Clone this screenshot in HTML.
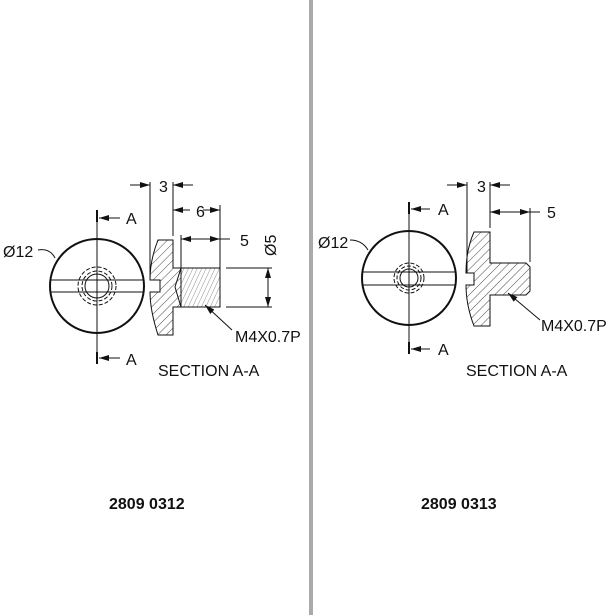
<!DOCTYPE html>
<html><head><meta charset="utf-8"><style>
html,body{margin:0;padding:0;background:#fff;width:615px;height:615px;overflow:hidden}
text{font-family:"Liberation Sans",sans-serif;fill:#111}
</style></head><body>
<svg width="615" height="615" viewBox="0 0 615 615" xmlns="http://www.w3.org/2000/svg">
<defs>
<pattern id="h" width="6" height="6" patternUnits="userSpaceOnUse" patternTransform="rotate(45)">
<line x1="0" y1="0" x2="0" y2="6" stroke="#222" stroke-width="0.8"/></pattern>
<pattern id="h2" width="4" height="4" patternUnits="userSpaceOnUse" patternTransform="rotate(25)">
<line x1="0" y1="0" x2="0" y2="4" stroke="#444" stroke-width="0.6"/></pattern>
<marker id="ar" markerWidth="10" markerHeight="6" refX="10" refY="3" orient="auto" markerUnits="userSpaceOnUse">
<path d="M0,0 L10,3 L0,6z" fill="#111"/></marker>
</defs>
<rect x="309" y="0" width="4" height="615" fill="#aaa"/>

<g stroke="#111" fill="none" stroke-width="1">
<circle cx="97" cy="286" r="47" stroke-width="2"/>
<line x1="50" y1="280" x2="144" y2="280"/><line x1="50" y1="292" x2="144" y2="292"/>
<circle cx="97" cy="286" r="12"/>
<circle cx="97" cy="286" r="15" stroke-dasharray="4,2"/>
<circle cx="97" cy="286" r="19" stroke-dasharray="4,2"/>
<line x1="97" y1="212" x2="97" y2="362"/>
<line x1="97" y1="210" x2="97" y2="222" stroke-width="2"/><line x1="97" y1="352" x2="97" y2="364" stroke-width="2"/>
<line x1="120" y1="218" x2="99" y2="218" marker-end="url(#ar)"/>
<line x1="120" y1="358" x2="99" y2="358" marker-end="url(#ar)"/>
<path d="M38,250 Q50,248 55,258"/>
<path d="M158,240 L173,240 L173,268 L181,268 L181,307 L173,307 L173,335 L158,335 Q150,310 150,292 L160,292 L160,280 L150,280 Q150,260 158,240Z" fill="url(#h)"/>
<path d="M181,268 L220,268 L220,307 L181,307Z" fill="url(#h2)"/>
<path d="M181,268 L175,287 L181,307"/>
<line x1="150" y1="182" x2="150" y2="280"/><line x1="173" y1="182" x2="173" y2="236"/>
<line x1="130" y1="185" x2="150" y2="185" marker-end="url(#ar)"/><line x1="193" y1="185" x2="173" y2="185" marker-end="url(#ar)"/>
<line x1="220" y1="205" x2="220" y2="268"/>
<line x1="190" y1="210" x2="173" y2="210" marker-end="url(#ar)"/><line x1="203" y1="210" x2="220" y2="210" marker-end="url(#ar)"/>
<line x1="181" y1="235" x2="181" y2="268"/>
<line x1="200" y1="239" x2="181" y2="239" marker-end="url(#ar)"/><line x1="200" y1="239" x2="220" y2="239" marker-end="url(#ar)"/><line x1="220" y1="239" x2="230" y2="239"/>
<line x1="226" y1="268" x2="272" y2="268"/><line x1="226" y1="307" x2="272" y2="307"/>
<line x1="268" y1="287" x2="268" y2="268" marker-end="url(#ar)"/><line x1="268" y1="287" x2="268" y2="307" marker-end="url(#ar)"/>
<line x1="232" y1="330" x2="205" y2="305" marker-end="url(#ar)"/>

<circle cx="409" cy="278" r="47" stroke-width="2"/>
<line x1="362" y1="272" x2="456" y2="272"/><line x1="362" y1="285" x2="456" y2="285"/>
<circle cx="409" cy="278" r="9"/>
<circle cx="409" cy="278" r="12" stroke-dasharray="4,2"/>
<circle cx="409" cy="278" r="15" stroke-dasharray="4,2"/>
<line x1="409" y1="203" x2="409" y2="352"/>
<line x1="409" y1="202" x2="409" y2="214" stroke-width="2"/><line x1="409" y1="342" x2="409" y2="354" stroke-width="2"/>
<line x1="430" y1="209" x2="411" y2="209" marker-end="url(#ar)"/>
<line x1="430" y1="349" x2="411" y2="349" marker-end="url(#ar)"/>
<path d="M350,240 Q362,240 368,250"/>
<path d="M474,232 L490,232 L490,263 L526,263 L530,267 L530,291 L526,295 L490,295 L490,326 L474,326 Q466,305 466,285 L474,285 L474,273 L466,273 Q466,250 474,232Z" fill="url(#h)"/>
<line x1="467" y1="182" x2="467" y2="273"/><line x1="490" y1="182" x2="490" y2="228"/>
<line x1="447" y1="185" x2="467" y2="185" marker-end="url(#ar)"/><line x1="510" y1="185" x2="490" y2="185" marker-end="url(#ar)"/>
<line x1="530" y1="208" x2="530" y2="262"/>
<line x1="510" y1="212" x2="490" y2="212" marker-end="url(#ar)"/><line x1="510" y1="212" x2="530" y2="212" marker-end="url(#ar)"/><line x1="530" y1="212" x2="540" y2="212"/>
<line x1="540" y1="320" x2="508" y2="293" marker-end="url(#ar)"/>
</g>

<g font-size="16">
<text x="126" y="224">A</text><text x="126" y="365">A</text>
<text x="3" y="257">Ø12</text>
<text x="159" y="192">3</text><text x="196" y="217">6</text><text x="240" y="246">5</text>
<text transform="translate(276,256) rotate(-90)">Ø5</text>
<text x="235" y="342">M4X0.7P</text>
<text x="158" y="376">SECTION A-A</text>
<text x="438" y="215">A</text><text x="438" y="355">A</text>
<text x="318" y="248">Ø12</text>
<text x="477" y="192">3</text><text x="547" y="218">5</text>
<text x="541" y="331">M4X0.7P</text>
<text x="466" y="376">SECTION A-A</text>
</g>
<g font-size="16" font-weight="bold"><text x="109" y="509">2809 0312</text><text x="421" y="509">2809 0313</text></g>
</svg>
</body></html>
